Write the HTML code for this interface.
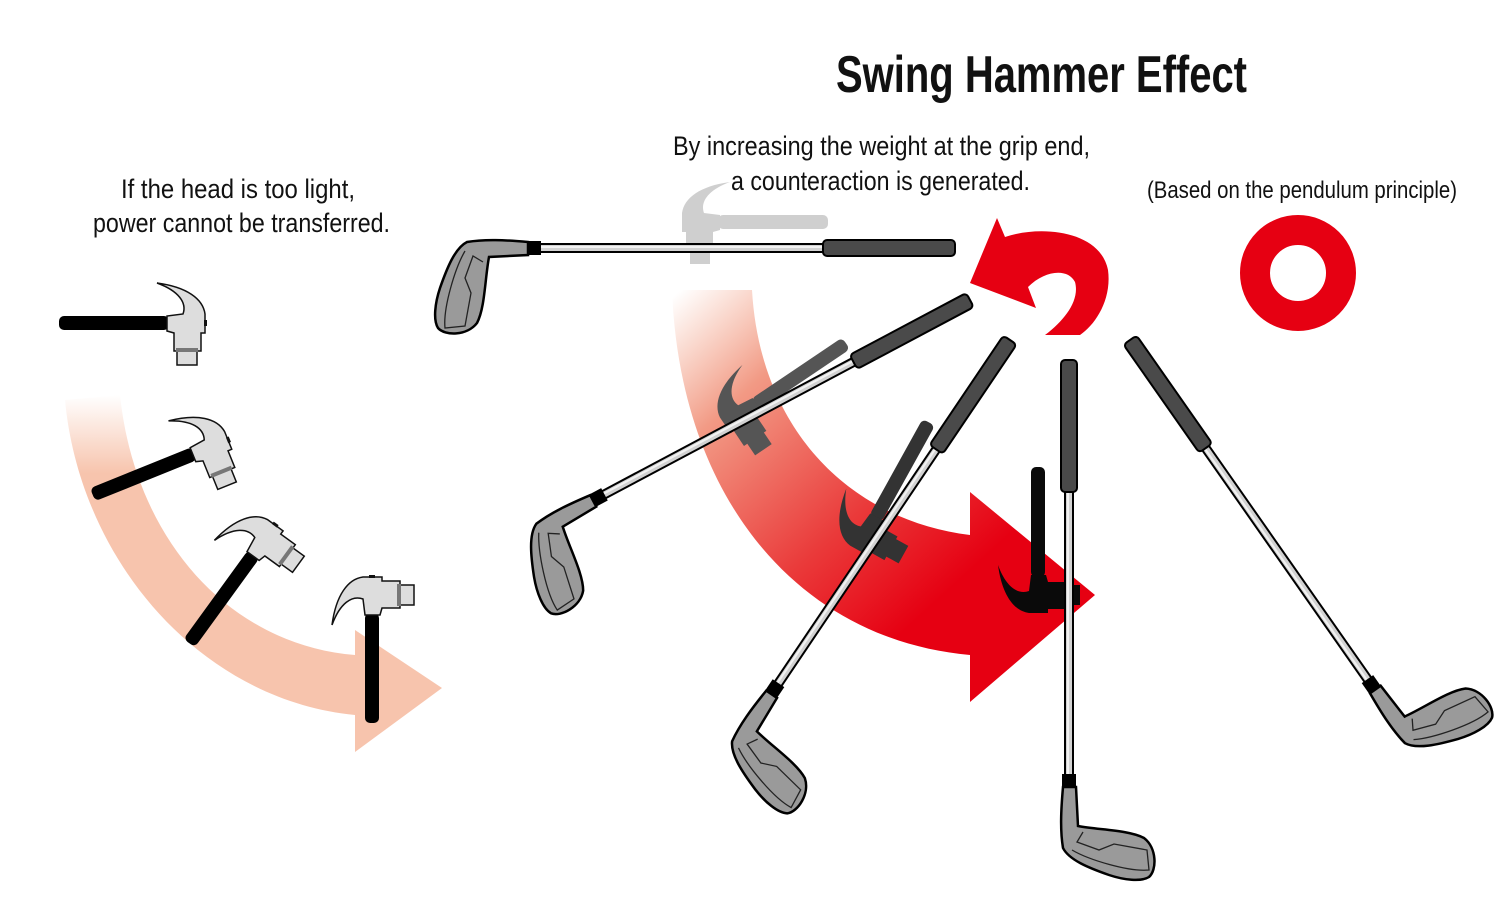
<!DOCTYPE html>
<html><head><meta charset="utf-8"><style>
html,body{margin:0;padding:0;background:#fff;}
svg{display:block;}
text{font-family:"Liberation Sans Narrow","Liberation Sans",sans-serif;fill:#111;}
</style></head><body>
<svg width="1500" height="904" viewBox="0 0 1500 904" xmlns="http://www.w3.org/2000/svg">
<defs>
<linearGradient id="sal" x1="0" y1="0" x2="0" y2="1">
<stop offset="0" stop-color="#f7c4ad" stop-opacity="0"/>
<stop offset="0.22" stop-color="#f7c4ad" stop-opacity="1"/>
<stop offset="1" stop-color="#f7c4ad"/>
</linearGradient>
<linearGradient id="red" x1="680" y1="290" x2="1000" y2="640" gradientUnits="userSpaceOnUse">
<stop offset="0" stop-color="#f3a68a" stop-opacity="0"/>
<stop offset="0.25" stop-color="#f29a85"/>
<stop offset="0.6" stop-color="#ea3a3a"/>
<stop offset="0.85" stop-color="#e60012"/>
<stop offset="1" stop-color="#e60012"/>
</linearGradient>
<g id="hammer">
<rect x="-7" y="36" width="14" height="110" rx="5" fill="#000"/>
<path d="M-9,0 L10,0 L10,4 L28,4 L28,8 L42,8 L42,28 L28,28 L28,31 L10,31 L8,38 L-7,38 L-9,22 C-20,18 -32,26 -40,48 C-36,18 -24,2 -9,0 Z" fill="#ddd" stroke="#111" stroke-width="1.5"/>
<rect x="25" y="7" width="4" height="22" fill="#777"/>
<rect x="-3" y="-2" width="6" height="3" fill="#111"/>
</g>
<g id="hsil">
<rect x="-7" y="36" width="14" height="110" rx="5"/>
<path d="M-9,0 L10,0 L10,4 L28,4 L28,8 L42,8 L42,28 L28,28 L28,31 L10,31 L8,38 L-7,38 L-9,22 C-20,18 -32,26 -40,48 C-36,18 -24,2 -9,0 Z"/>
</g>
<g id="club">
<line x1="0" y1="128" x2="0" y2="418" stroke="#000" stroke-width="10"/>
<line x1="0" y1="128" x2="0" y2="418" stroke="#d2d2d2" stroke-width="6"/>
<line x1="-1" y1="128" x2="-1" y2="418" stroke="#f2f2f2" stroke-width="2"/>
<rect x="-8" y="0" width="16" height="132" rx="4" fill="#4a4a4a" stroke="#000" stroke-width="2"/>
<path d="M-6,427 L7,427 L9,466 C30,470 60,470 75,478 C88,488 88,510 80,517 C72,522 55,520 40,515 C20,508 0,500 -6,488 C-9,470 -8,450 -6,427 Z" fill="#9a9a9a" stroke="#000" stroke-width="2.5"/>
<path d="M14,472 L8,482 L30,490 L45,484 L78,490 L80,510 C60,512 20,500 3,490" fill="none" stroke="#222" stroke-width="1.3"/>
<rect x="-7" y="414" width="14" height="14" fill="#000"/>
</g>
</defs>

<!-- salmon arrow -->
<path d="M65,400 C80,560 200,700 355,715 L355,752 L442,688 L355,630 L355,655 C230,645 135,540 120,395 Z" fill="url(#sal)"/>
<!-- red arrow -->
<path d="M672,290 C680,500 800,640 970,655 L970,702 L1095,595 L970,492 L970,535 C850,520 760,430 752,290 Z" fill="url(#red)"/>
<!-- counter arrow -->
<path d="M997,218 L1005,237 C1040,225 1100,230 1108,270 C1112,300 1095,325 1080,335 L1045,335 C1065,320 1080,300 1075,282 C1068,268 1045,270 1028,287 L1036,308 L970,283 Z" fill="#e60012"/>
<circle cx="1298" cy="273" r="43" fill="none" stroke="#e60012" stroke-width="30"/>

<!-- left hammers -->
<use href="#hammer" transform="translate(205,323) rotate(90)"/>
<use href="#hammer" transform="translate(228,440) rotate(68)"/>
<use href="#hammer" transform="translate(275,525) rotate(36)"/>
<use href="#hammer" transform="translate(372,577)"/>

<!-- ghost hammers -->
<use href="#hsil" fill="#cfcfcf" transform="translate(682,222) rotate(90) scale(1,-1)"/>
<use href="#hsil" fill="#555" transform="translate(725,425) rotate(56) scale(1,-1)"/>
<use href="#hsil" fill="#333" transform="translate(858,550) rotate(29) scale(1,-1)"/>
<use href="#hsil" fill="#0a0a0a" transform="translate(1038,613) scale(1,-1)"/>

<!-- clubs -->
<use href="#club" transform="translate(955,248) rotate(90)"/>
<use href="#club" transform="translate(970,300) rotate(62)"/>
<use href="#club" transform="translate(1010,340) rotate(34)"/>
<use href="#club" transform="translate(1069,360)"/>
<use href="#club" transform="translate(1130,340) rotate(-35)"/>

<!-- text -->
<text x="836" y="92" font-size="52" font-weight="bold" textLength="411" lengthAdjust="spacingAndGlyphs">Swing Hammer Effect</text>
<text x="121" y="198" font-size="27" textLength="234" lengthAdjust="spacingAndGlyphs">If the head is too light,</text>
<text x="93" y="232" font-size="27" textLength="297" lengthAdjust="spacingAndGlyphs">power cannot be transferred.</text>
<text x="673" y="155" font-size="27" textLength="417" lengthAdjust="spacingAndGlyphs">By increasing the weight at the grip end,</text>
<text x="731" y="190" font-size="27" textLength="299" lengthAdjust="spacingAndGlyphs">a counteraction is generated.</text>
<text x="1147" y="198" font-size="24" textLength="310" lengthAdjust="spacingAndGlyphs">(Based on the pendulum principle)</text>
</svg>
</body></html>
